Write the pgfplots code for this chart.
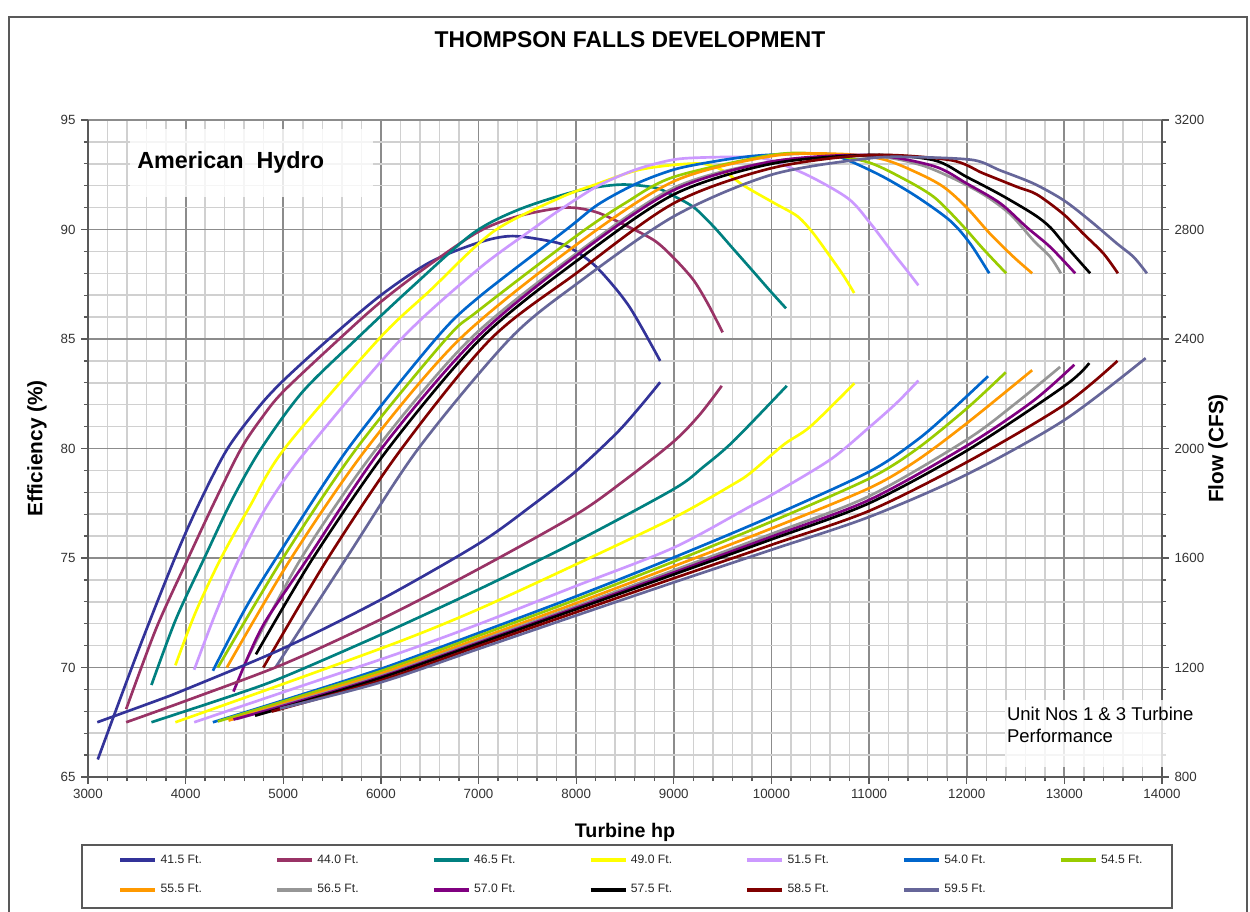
\documentclass[border=0pt]{standalone}
\usepackage{fontspec}
\setmainfont{Liberation Sans}
\usepackage{pgfplots}
\pgfplotsset{compat=1.18}
\definecolor{cA}{HTML}{333399}
\definecolor{cB}{HTML}{993366}
\definecolor{cC}{HTML}{008080}
\definecolor{cD}{HTML}{FFFF00}
\definecolor{cE}{HTML}{CC99FF}
\definecolor{cF}{HTML}{0066CC}
\definecolor{cG}{HTML}{99CC00}
\definecolor{cH}{HTML}{FF9900}
\definecolor{cI}{HTML}{969696}
\definecolor{cJ}{HTML}{800080}
\definecolor{cK}{HTML}{000000}
\definecolor{cL}{HTML}{800000}
\definecolor{cM}{HTML}{666699}
\definecolor{majgrid}{HTML}{8C8C8C}
\definecolor{mingrid}{HTML}{D0D0D0}
\definecolor{axcol}{HTML}{595959}
\begin{document}
\begin{tikzpicture}
\useasboundingbox (-52.8pt,-80.4pt) rectangle (697.2pt,466.2pt);
\fill[white] (-52.8pt,-80.4pt) rectangle (697.2pt,466.2pt);
% outer frame
\draw[axcol, line width=1.2pt] (-47.4pt,-90pt) -- (-47.4pt,456pt) -- (695.4pt,456pt) -- (695.4pt,-90pt);
% title
\node[anchor=base, font=\bfseries\fontsize{13.7}{16}\selectfont, inner sep=0pt] at (325.2pt,437.4pt) {THOMPSON FALLS DEVELOPMENT};
\begin{axis}[
  at={(0pt,0pt)}, anchor=south west,
  width=644.4pt, height=394.2pt, scale only axis,
  xmin=3000, xmax=14000, ymin=65, ymax=95,
  xtick={3000,4000,...,14000}, ytick={65,70,...,95},
  minor x tick num=4, minor y tick num=4,
  scaled x ticks=false, scaled y ticks=false,
  grid=both,
  major grid style={draw=majgrid, line width=1.1pt},
  minor grid style={draw=mingrid, line width=0.9pt},
  axis x line*=bottom, axis y line*=left,
  axis line style={draw=axcol, line width=1.2pt, -},
  tick align=outside, major tick length=4pt, minor tick length=2.5pt,
  tick style={draw=axcol, line width=0.8pt},
  tick label style={font=\fontsize{8}{9.6}\selectfont, text=black!80, /pgf/number format/assume math mode=true, /pgf/number format/1000 sep={}},
  xlabel={Turbine hp},
  ylabel={Efficiency (\%)},
  xlabel style={at={(axis description cs:0.5,-0.0837)}, anchor=center, font=\bfseries\fontsize{11.8}{14}\selectfont},
  ylabel style={at={(axis description cs:-0.0475,0.5)}, anchor=center, font=\bfseries\fontsize{12.5}{15}\selectfont},
  every axis plot/.append style={line width=1.6pt, smooth, no markers},
  legend image code/.code={\draw[#1, line width=2.4pt] (0pt,0pt) -- (21pt,0pt);},
  legend columns=7,
  legend style={at={(0.02793,-0.14916)}, anchor=west, draw=none, fill=none,
    inner xsep=0pt, inner ysep=0pt, row sep=7pt,
    font=\fontsize{7.3}{8.8}\selectfont, text=black!85,
    /tikz/every even column/.append style={column sep=41.9pt}},
  legend cell align=left,
]
% efficiency curves
\addplot[cA] coordinates {(3100,65.8) (3500,70.6) (3890,75.0) (4150,77.6) (4430,80.0) (4750,81.9) (5000,83.1) (5467,85.0) (6000,87.0) (6500,88.5) (7000,89.4) (7350,89.7) (7800,89.4) (8000,89.0) (8227,88.2) (8541,86.5) (8860,84.0)};
\addlegendentry{41.5 Ft.}
\addplot[cB] coordinates {(3391,68.1) (3700,71.8) (4027,75.0) (4300,77.6) (4569,80.0) (4780,81.4) (5000,82.6) (5573,85.0) (6000,86.7) (6500,88.4) (7000,89.9) (7400,90.6) (7885,91.0) (8200,90.8) (8500,90.2) (8800,89.5) (9000,88.7) (9200,87.7) (9350,86.6) (9500,85.3)};
\addlegendentry{44.0 Ft.}
\addplot[cC] coordinates {(3650,69.2) (3900,72.2) (4192,75.0) (4480,77.7) (4774,80.0) (5200,82.6) (5750,85.0) (6300,87.3) (6935,89.8) (7407,90.9) (8000,91.75) (8450,92.05) (8816,91.9) (9012,91.5) (9208,91.0) (9404,90.15) (9600,89.16) (9796,88.17) (9992,87.17) (10149,86.4)};
\addlegendentry{46.5 Ft.}
\addplot[cD] coordinates {(3895,70.1) (4100,72.5) (4363,75.0) (4650,77.3) (5014,80.0) (5979,85.0) (6500,87.2) (7150,89.9) (7835,91.45) (8227,92.1) (8620,92.7) (9000,92.95) (9300,93.0) (9500,92.7) (9718,92.0) (10031,91.2) (10267,90.6) (10424,89.85) (10580,88.9) (10737,87.9) (10847,87.1)};
\addlegendentry{49.0 Ft.}
\addplot[cE] coordinates {(4088,69.9) (4300,72.4) (4540,74.9) (4850,77.5) (5254,80.0) (6208,85.0) (7000,88.2) (7548,90.0) (7835,90.9) (8227,92.0) (8620,92.75) (9012,93.2) (9404,93.3) (9800,93.3) (10000,93.15) (10384,92.45) (10790,91.4) (11010,90.3) (11215,89.1) (11386,88.14) (11505,87.45)};
\addlegendentry{51.5 Ft.}
\addplot[cF] coordinates {(4279,69.85) (4600,72.6) (4928,75.0) (5665,80.0) (6561,85.0) (7000,86.9) (7900,90.0) (8227,91.15) (8620,92.1) (9012,92.75) (9404,93.1) (9796,93.35) (10188,93.45) (10580,93.45) (10816,93.1) (11147,92.4) (11488,91.5) (11830,90.4) (12035,89.36) (12230,88.0)};
\addlegendentry{54.0 Ft.}
\addplot[cG] coordinates {(4330,70.0) (4997,75.0) (5750,80.0) (6667,85.0) (7000,86.3) (8000,89.7) (8500,91.2) (9000,92.4) (10000,93.4) (10500,93.45) (10976,93.09) (11318,92.4) (11659,91.5) (11932,90.3) (12171,89.1) (12404,88.0)};
\addlegendentry{54.5 Ft.}
\addplot[cH] coordinates {(4422,70.0) (5082,75.0) (5853,80.0) (6808,85.0) (8000,89.3) (9000,92.2) (10000,93.35) (10700,93.45) (11147,93.2) (11488,92.6) (11761,91.95) (12000,91.0) (12240,89.8) (12479,88.75) (12670,88.0)};
\addlegendentry{55.5 Ft.}
\addplot[cI] coordinates {(4620,70.3) (5185,75.0) (5956,80.0) (6914,85.0) (8000,88.9) (9000,91.9) (10000,93.1) (11000,93.35) (11488,93.0) (11830,92.4) (12171,91.6) (12445,90.7) (12684,89.5) (12855,88.75) (12964,88.0)};
\addlegendentry{56.5 Ft.}
\addplot[cJ] coordinates {(4490,68.9) (4660,70.7) (4830,72.2) (5253,75.0) (6007,80.0) (6966,85.0) (8000,88.8) (9000,91.8) (10000,93.1) (11000,93.4) (11659,92.9) (12000,92.1) (12342,91.2) (12615,90.1) (12855,89.2) (13111,88.0)};
\addlegendentry{57.0 Ft.}
\addplot[cK] coordinates {(4720,70.6) (5305,75.0) (6076,80.0) (7019,85.0) (8000,88.55) (9000,91.6) (10000,93.0) (11000,93.4) (11659,93.17) (12000,92.4) (12342,91.6) (12684,90.7) (12855,90.1) (13025,89.2) (13264,88.0)};
\addlegendentry{57.5 Ft.}
\addplot[cL] coordinates {(4796,70.0) (5459,75.0) (6213,80.0) (7125,85.0) (8000,88.0) (9000,91.2) (10000,92.8) (11000,93.4) (11830,93.17) (12171,92.56) (12513,91.95) (12718,91.6) (12991,90.7) (13196,89.8) (13401,88.9) (13548,88.0)};
\addlegendentry{58.5 Ft.}
\addplot[cM] coordinates {(4920,70.0) (5647,75.0) (6384,80.0) (7319,85.0) (8000,87.5) (9000,90.6) (10000,92.5) (11000,93.25) (11500,93.3) (12069,93.17) (12342,92.7) (12684,92.1) (12991,91.34) (13264,90.4) (13538,89.36) (13708,88.75) (13845,88.0)};
\addlegendentry{59.5 Ft.}
\end{axis}
\begin{axis}[
  at={(0pt,0pt)}, anchor=south west,
  width=644.4pt, height=394.2pt, scale only axis,
  xmin=3000, xmax=14000, ymin=800, ymax=3200,
  ytick={800,1200,...,3200}, minor y tick num=4,
  scaled y ticks=false,
  axis x line=none, axis y line*=right,
  axis line style={draw=axcol, line width=1.2pt, -},
  tick align=outside, major tick length=4pt, minor tick length=2.5pt,
  tick style={draw=axcol, line width=0.8pt},
  tick label style={font=\fontsize{8}{9.6}\selectfont, text=black!80, /pgf/number format/assume math mode=true, /pgf/number format/1000 sep={}},
  ylabel={Flow (CFS)},
  ylabel style={at={(axis description cs:1.0521,0.5)}, anchor=center, font=\bfseries\fontsize{12.5}{15}\selectfont},
  every axis plot/.append style={line width=1.6pt, smooth, no markers},
]
% flow curves
\addplot[cA] coordinates {(3095,1000) (3712,1080) (4000,1120) (5000,1270) (6000,1448) (7000,1652) (7563,1796) (8000,1918) (8416,2057) (8655,2153) (8860,2242)};
\addplot[cB] coordinates {(3391,1000) (4000,1078) (5000,1212) (6000,1376) (7000,1560) (8000,1759) (8500,1885) (9000,2026) (9266,2124) (9491,2229)};
\addplot[cC] coordinates {(3650,1000) (4500,1100) (5000,1165) (6000,1320) (7000,1485) (8000,1660) (9000,1852) (9300,1932) (9611,2027) (10157,2229)};
\addplot[cD] coordinates {(3895,1000) (5000,1140) (6198,1296) (7000,1413) (8000,1577) (9000,1747) (9611,1870) (9789,1912) (10129,2015) (10401,2081) (10850,2238)};
\addplot[cE] coordinates {(4088,1000) (5000,1110) (6198,1254) (7000,1358) (8000,1498) (9000,1638) (9789,1790) (10000,1830) (10605,1960) (11013,2081) (11284,2167) (11505,2248)};
\addplot[cF] coordinates {(4279,1000) (5000,1080) (6000,1195) (7000,1326) (8000,1460) (9000,1602) (10000,1752) (11000,1915) (11488,2030) (11828,2134) (12219,2264)};
\addplot[cG] coordinates {(4330,1003) (5000,1076) (6000,1187) (7000,1316) (8000,1448) (9000,1587) (10000,1733) (11000,1890) (11488,1998) (12000,2146) (12399,2278)};
\addplot[cH] coordinates {(4439,1006) (5000,1068) (6000,1178) (7000,1305) (8000,1435) (9000,1570) (10000,1708) (11000,1855) (11488,1956) (12000,2092) (12670,2286)};
\addplot[cI] coordinates {(4524,1012) (5000,1063) (6000,1170) (7000,1296) (8000,1424) (9000,1555) (10000,1688) (11000,1826) (12000,2032) (12508,2167) (12956,2298)};
\addplot[cJ] coordinates {(4490,1010) (5000,1060) (6000,1166) (7000,1291) (8000,1418) (9000,1547) (10000,1678) (11000,1812) (12000,2010) (12678,2173) (13102,2306)};
\addplot[cK] coordinates {(4711,1024) (5000,1054) (6000,1162) (7000,1287) (8000,1413) (9000,1540) (10000,1668) (11000,1800) (12000,1992) (13000,2228) (13255,2312)};
\addplot[cL] coordinates {(4881,1039) (6000,1153) (7000,1278) (8000,1402) (9000,1526) (10000,1648) (11000,1772) (12000,1950) (13000,2160) (13544,2320)};
\addplot[cM] coordinates {(4966,1050) (6000,1146) (7000,1268) (8000,1390) (9000,1511) (10000,1630) (11000,1750) (12000,1905) (13000,2104) (13833,2330)};
\end{axis}
% legend frame
\draw[axcol, line width=1pt] (-3.6pt,-40.8pt) rectangle (650.4pt,-78.6pt);
% text boxes
\fill[white, opacity=0.8] (25.2pt,348pt) rectangle (171pt,389pt);
\node[anchor=base west, inner sep=0pt, font=\bfseries\fontsize{14}{17}\selectfont] at (29.4pt,365.2pt) {American\ \ Hydro};
\fill[white, opacity=0.8] (550.2pt,6pt) rectangle (691.2pt,46.2pt);
\node[anchor=base west, inner sep=0pt, font=\fontsize{11.1}{13}\selectfont] at (551.2pt,33.8pt) {Unit Nos 1 \& 3 Turbine};
\node[anchor=base west, inner sep=0pt, font=\fontsize{11.1}{13}\selectfont] at (551.2pt,20.8pt) {Performance};
\end{tikzpicture}
\end{document}
